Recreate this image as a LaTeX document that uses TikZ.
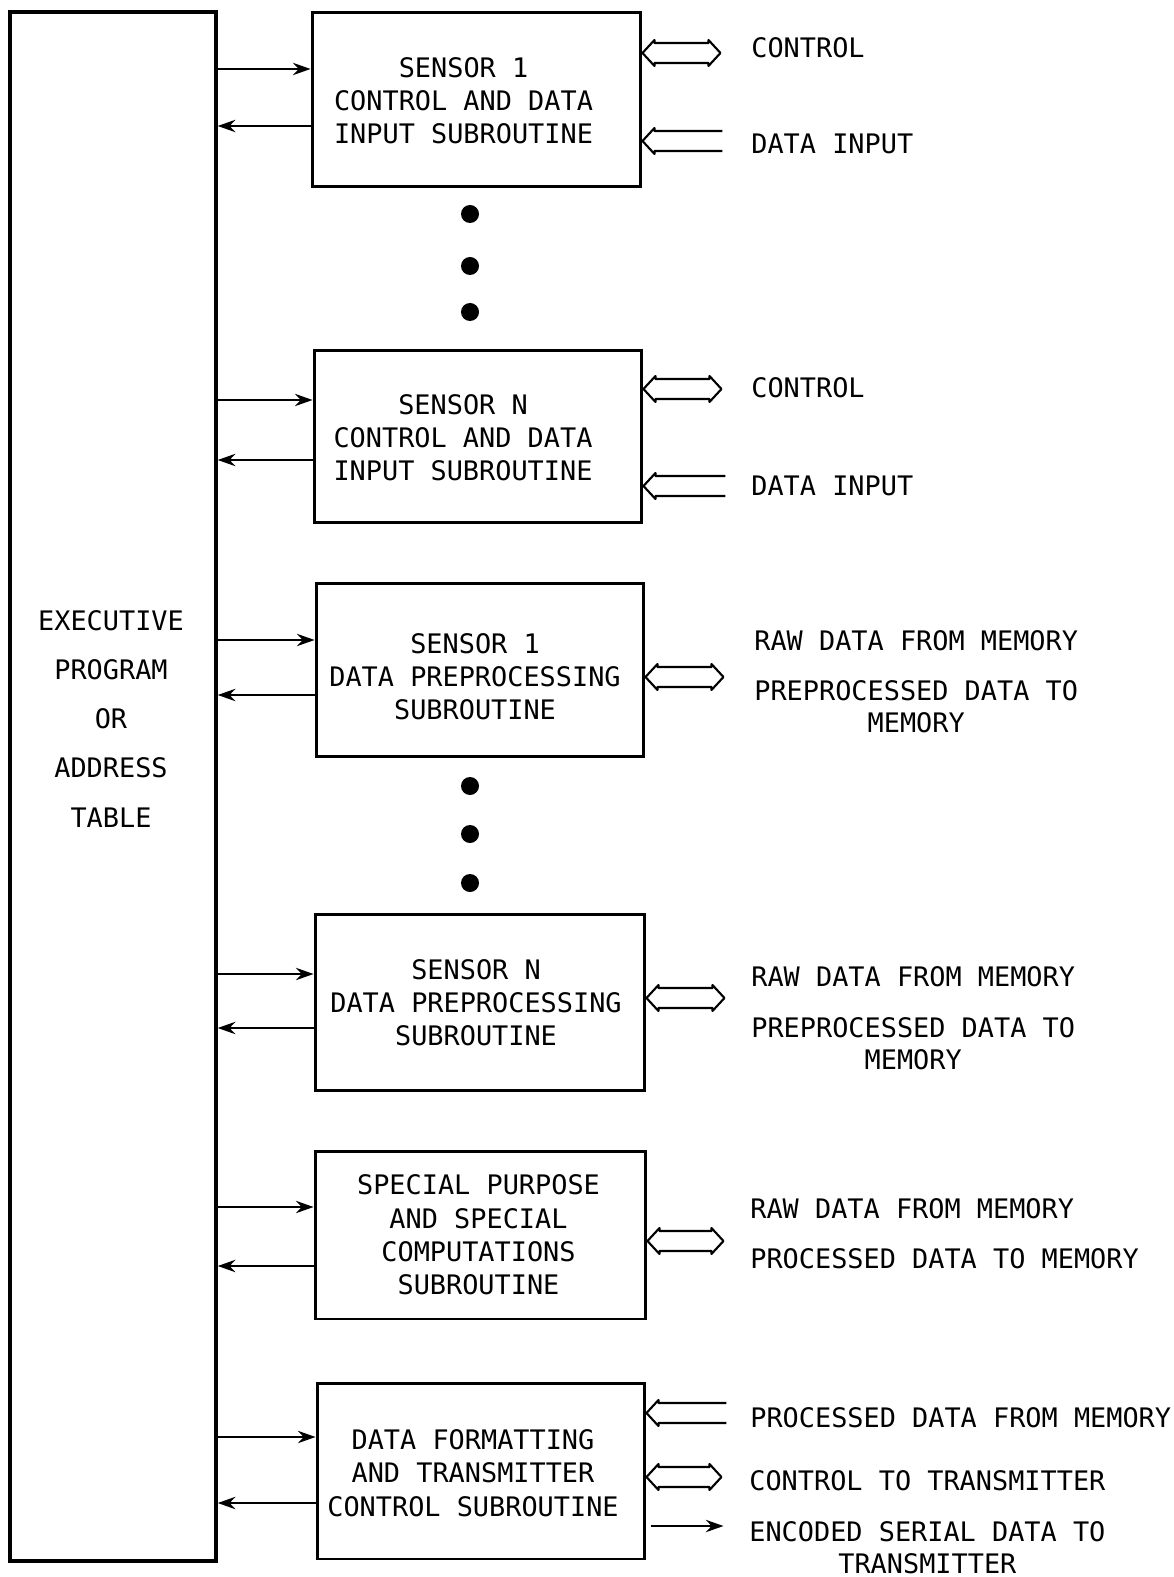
\documentclass[tikz,border=0pt]{standalone}
\usepackage{fontspec}
\setmonofont{DejaVu Sans Mono}
\usetikzlibrary{arrows.meta,calc}
\newcommand\busboth[2]{%
  \draw[bus] (#1) -- ++(12,-13) -- ++(0,3) -- ++(#2-24,0) -- ++(0,-3) -- ++(12,13)
     -- ++(-12,13) -- ++(0,-3) -- ++(-#2+24,0) -- ++(0,3) -- cycle;}
\newcommand\busin[2]{%
  \draw[bus] ($(#1)+(#2,-10)$) -- ($(#1)+(12,-10)$) -- ++(0,-3) -- (#1)
     -- ++(12,13) -- ++(0,-3) -- ($(#1)+(#2,10)$);}
\begin{document}
\begin{tikzpicture}[x=0.02cm,y=-0.02cm,
  txt/.style={font=\ttfamily\fontsize{15.3}{18.9}\selectfont},
  sub/.style={draw, line width=1.7pt, inner sep=0pt},
  subtxt/.style={txt, align=center, inner sep=0pt},
  lbl/.style={txt, anchor=west, inner sep=0pt},
  lbltwo/.style={font=\ttfamily\fontsize{15.3}{18.3}\selectfont, align=center, inner sep=0pt},
  ln/.style={line width=1.3pt, -{Stealth[length=10pt,width=7pt]}},
  bus/.style={line width=1.2pt, line join=round},
  dot/.style={fill=black}]
\useasboundingbox (0,0) rectangle (1173,1577);

% executive box
\node[draw, line width=2pt, minimum width=4.12cm, minimum height=30.98cm, inner sep=0pt] (exec) at (113,786.5) {};
\node[font=\ttfamily\fontsize{15.3}{27.9}\selectfont, align=center, inner sep=0pt] (exectxt) at (111,719)
  {EXECUTIVE\\PROGRAM\\OR\\ADDRESS\\TABLE};

% subroutine boxes
\node[sub, minimum width=6.58cm, minimum height=3.50cm] (b1) at (476.5,99.5) {};
\node[sub, minimum width=6.56cm, minimum height=3.46cm] (b2) at (478,436.5) {};
\node[sub, minimum width=6.56cm, minimum height=3.48cm] (b3) at (480,670) {};
\node[sub, minimum width=6.60cm, minimum height=3.54cm] (b4) at (480,1002.5) {};
\node[sub, minimum width=6.62cm, minimum height=3.36cm] (b5) at (480.5,1235) {};
\node[sub, minimum width=6.56cm, minimum height=3.52cm] (b6) at (481,1471) {};

\node[subtxt] (t1) at ($(b1)+(-13,1)$) {SENSOR 1\\CONTROL AND DATA\\INPUT SUBROUTINE};
\node[subtxt] (t2) at ($(b2)+(-15,1)$) {SENSOR N\\CONTROL AND DATA\\INPUT SUBROUTINE};
\node[subtxt] (t3) at ($(b3)+(-5,7)$) {SENSOR 1\\DATA PREPROCESSING\\SUBROUTINE};
\node[subtxt] (t4) at ($(b4)+(-4,0)$) {SENSOR N\\DATA PREPROCESSING\\SUBROUTINE};
\node[subtxt] (t5) at ($(b5)+(-2,0)$) {SPECIAL PURPOSE\\AND SPECIAL\\COMPUTATIONS\\SUBROUTINE};
\node[subtxt] (t6) at ($(b6)+(-8,2)$) {DATA FORMATTING\\AND TRANSMITTER\\CONTROL SUBROUTINE};

% executive <-> subroutine connectors
\foreach \b/\ya/\yb in {b1/69/126, b2/400/460, b3/640/695, b4/974/1028, b5/1207/1266, b6/1437/1503}{
  \draw[ln] (exec.east |- 0,\ya) -- (\b.west |- 0,\ya);
  \draw[ln] (\b.west |- 0,\yb) -- (exec.east |- 0,\yb);
}

% ellipsis dots
\foreach \y in {214,266,312,786,834,883}{
  \fill[dot] (470,\y) circle (9);
}

% right side buses
\coordinate (r1a) at (b1.east |- 0,53);
\coordinate (r1b) at (b1.east |- 0,141);
\coordinate (r2a) at (b2.east |- 0,389);
\coordinate (r2b) at (b2.east |- 0,486);
\coordinate (r3a) at (b3.east |- 0,677);
\coordinate (r4a) at (b4.east |- 0,998);
\coordinate (r5a) at (b5.east |- 0,1241);
\coordinate (r6a) at (b6.east |- 0,1413);
\coordinate (r6b) at (b6.east |- 0,1477);
\coordinate (r6c) at ($(b6.east |- 0,1526)+(5,0)$);
\coordinate (r6d) at ($(b6.east |- 0,1526)+(77,0)$);

\busboth{r1a}{78}
\busin{r1b}{80}
\busboth{r2a}{78}
\busin{r2b}{82}
\busboth{r3a}{78}
\busboth{r4a}{78}
\busboth{r5a}{76}
\busin{r6a}{80}
\busboth{r6b}{75}
\draw[ln] (r6c) -- (r6d);

% labels
\node[lbl] (l1a) at (751,48) {CONTROL};
\node[lbl] (l1b) at (751,144) {DATA INPUT};
\node[lbl] (l2a) at (751,388) {CONTROL};
\node[lbl] (l2b) at (751,486) {DATA INPUT};
\node[lbl] (l3a) at (754,641) {RAW DATA FROM MEMORY};
\node[lbltwo, anchor=north west] (l3b) at (754,680) {PREPROCESSED DATA TO\\MEMORY};
\node[lbl] (l4a) at (751,977) {RAW DATA FROM MEMORY};
\node[lbltwo, anchor=north west] (l4b) at (751,1017) {PREPROCESSED DATA TO\\MEMORY};
\node[lbl] (l5a) at (750,1209) {RAW DATA FROM MEMORY};
\node[lbl] (l5b) at (750,1259) {PROCESSED DATA TO MEMORY};
\node[lbl] (l6a) at (750,1418) {PROCESSED DATA FROM MEMORY};
\node[lbl] (l6b) at (749,1481) {CONTROL TO TRANSMITTER};
\node[lbltwo, anchor=north west] (l6c) at (749,1521) {ENCODED SERIAL DATA TO\\TRANSMITTER};
\end{tikzpicture}
\end{document}
